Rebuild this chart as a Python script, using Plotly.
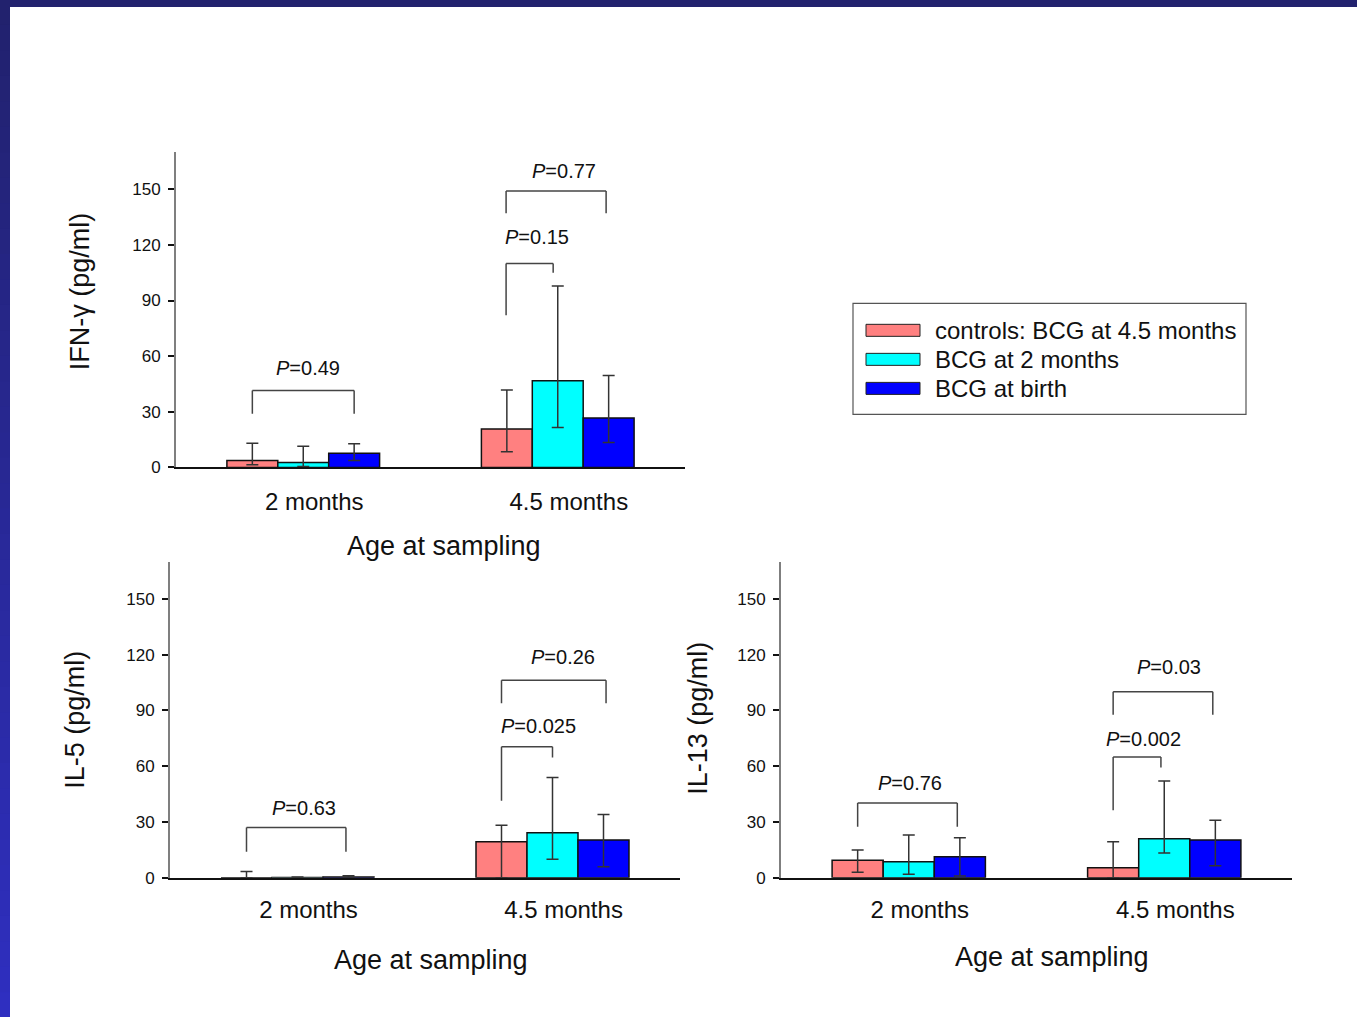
import plotly.graph_objects as go

W, H = 1357, 1017          # reference picture size
HL = 1028                  # layout height (the photo squeezes the page vertically ~0.99)

# ---------------- data ----------------
ages = ["2 months", "4.5 months"]
series_names = ["controls: BCG at 4.5 months", "BCG at 2 months", "BCG at birth"]
series_colors = ["#FF8080", "#00FFFF", "#0000FF"]

# IFN-gamma (pg/ml): value, lower whisker, upper whisker
ifn_controls = [3.8, 20.7]
ifn_controls_lo = [1.5, 8.5]
ifn_controls_hi = [13.0, 41.7]
ifn_bcg2 = [2.7, 46.8]
ifn_bcg2_lo = [0.5, 21.6]
ifn_bcg2_hi = [11.5, 97.8]
ifn_birth = [7.7, 26.6]
ifn_birth_lo = [3.8, 13.5]
ifn_birth_hi = [12.8, 49.6]

# IL-5 (pg/ml)
il5_controls = [0.0, 19.4]
il5_controls_lo = [0.0, 0.0]
il5_controls_hi = [3.4, 28.3]
il5_bcg2 = [0.2, 24.2]
il5_bcg2_lo = [0.1, 10.0]
il5_bcg2_hi = [0.5, 53.9]
il5_birth = [0.5, 20.3]
il5_birth_lo = [0.2, 6.0]
il5_birth_hi = [1.2, 34.0]

# IL-13 (pg/ml)
il13_controls = [9.4, 5.4]
il13_controls_lo = [3.0, 0.0]
il13_controls_hi = [15.0, 19.4]
il13_bcg2 = [8.6, 21.0]
il13_bcg2_lo = [2.0, 13.4]
il13_bcg2_hi = [23.0, 52.0]
il13_birth = [11.3, 20.4]
il13_birth_lo = [1.0, 6.5]
il13_birth_hi = [21.5, 31.0]

y_ticks = [0, 30, 60, 90, 120, 150]

# p-values shown above brackets
ifn_pvalues = ["0.49", "0.15", "0.77"]
il5_pvalues = ["0.63", "0.025", "0.26"]
il13_pvalues = ["0.76", "0.002", "0.03"]

# ---------------- layout helpers ----------------
FONT = "Arial, Liberation Sans, Helvetica, sans-serif"


def px(x):
    return x / W


def py(y):
    return 1 - y / H


panels = [
    dict(title="IFN-\u03b3 (pg/ml)",
         data=[(ifn_controls, ifn_controls_lo, ifn_controls_hi),
               (ifn_bcg2, ifn_bcg2_lo, ifn_bcg2_hi),
               (ifn_birth, ifn_birth_lo, ifn_birth_hi)],
         xdom=[px(176), px(685)], ydom=[py(467), py(152)],
         ytitle_xy=(80, 291), xtitle_xy=(444, 545), standoff=12, shift=11,
         pvals=ifn_pvalues,
         # (x_left, x_right, top, left_leg_bottom, right_leg_bottom, label_x, label_y)
         brackets=[(-0.2, 0.2, 41.5, 29, 29, 0.018, 53.4),
                   (0.797, 0.982, 110, 82, 105, 0.92, 124),
                   (0.797, 1.19, 149, 137, 137, 1.026, 160)]),
    dict(title="IL-5 (pg/ml)",
         data=[(il5_controls, il5_controls_lo, il5_controls_hi),
               (il5_bcg2, il5_bcg2_lo, il5_bcg2_hi),
               (il5_birth, il5_birth_lo, il5_birth_hi)],
         xdom=[px(170), px(680)], ydom=[py(877), py(561)],
         ytitle_xy=(75, 719), xtitle_xy=(431, 959), standoff=9, shift=11,
         pvals=il5_pvalues,
         brackets=[(-0.2, 0.19, 27, 14.1, 14.1, 0.024, 37.6),
                   (0.8, 1.0, 70.4, 41.4, 64.7, 0.947, 81.7),
                   (0.8, 1.21, 106.2, 93.8, 93.8, 1.04, 118.8)]),
    dict(title="IL-13 (pg/ml)",
         data=[(il13_controls, il13_controls_lo, il13_controls_hi),
               (il13_bcg2, il13_bcg2_lo, il13_bcg2_hi),
               (il13_birth, il13_birth_lo, il13_birth_hi)],
         xdom=[px(781), px(1292)], ydom=[py(877), py(561)],
         ytitle_xy=(698, 718), xtitle_xy=(1052, 956), standoff=9, shift=11,
         pvals=il13_pvalues,
         brackets=[(-0.2, 0.19, 40.2, 27.5, 27.5, 0.006, 51),
                   (0.8, 0.987, 65, 36.4, 59.3, 0.92, 74.7),
                   (0.8, 1.19, 100, 87.6, 87.6, 1.018, 113.4)]),
]

fig = go.Figure()
shapes = []
annotations = []

for i, p in enumerate(panels):
    ax = "" if i == 0 else str(i + 1)
    xref, yref = "x" + ax, "y" + ax
    for (vals, lo, hi), name, color in zip(p["data"], series_names, series_colors):
        fig.add_trace(go.Bar(
            x=ages, y=vals, name=name, xaxis=xref, yaxis=yref,
            marker=dict(color=color, line=dict(color="#111111", width=1.5)),
            error_y=dict(type="data", symmetric=False,
                         array=[h - v for h, v in zip(hi, vals)],
                         arrayminus=[v - l for v, l in zip(vals, lo)],
                         color="#333333", thickness=1.5, width=6),
            showlegend=False,
        ))
    fig.layout["xaxis" + ax] = dict(
        domain=p["xdom"], anchor=yref, type="category", range=[-0.5, 1.5],
        showline=True, linecolor="#111111", linewidth=2, ticks="",
        showgrid=False, zeroline=False,
        ticklabelstandoff=p["standoff"], ticklabelshift=p["shift"],
        tickfont=dict(family=FONT, size=24, color="#111111"),
    )
    fig.layout["yaxis" + ax] = dict(
        domain=p["ydom"], anchor=xref, range=[0, 170], tickvals=y_ticks,
        showline=True, linecolor="#7f7f7f", linewidth=2,
        ticks="outside", ticklen=6, tickwidth=1.5, tickcolor="#111111",
        showgrid=False, zeroline=False, ticklabelstandoff=4,
        tickfont=dict(family=FONT, size=17, color="#111111"),
    )
    # y title
    annotations.append(dict(
        text=p["title"], x=px(p["ytitle_xy"][0]), y=py(p["ytitle_xy"][1]),
        xref="paper", yref="paper", showarrow=False, textangle=-90,
        xanchor="center", yanchor="middle",
        font=dict(family=FONT, size=27, color="#111111")))
    # x title
    annotations.append(dict(
        text="Age at sampling", x=px(p["xtitle_xy"][0]), y=py(p["xtitle_xy"][1]),
        xref="paper", yref="paper", showarrow=False,
        xanchor="center", yanchor="middle",
        font=dict(family=FONT, size=27, color="#111111")))
    # brackets
    for (x0, x1, top, l0, l1, lx, ly), pv in zip(p["brackets"], p["pvals"]):
        line = dict(color="#444444", width=1.5)
        for (a, b, c, d) in [(x0, l0, x0, top), (x0, top, x1, top), (x1, top, x1, l1)]:
            shapes.append(dict(type="line", xref=xref, yref=yref,
                               x0=a, y0=b, x1=c, y1=d, line=line))
        annotations.append(dict(
            text="<i>P</i>=" + pv, x=lx, y=ly, xref=xref, yref=yref,
            showarrow=False, xanchor="center", yanchor="middle",
            font=dict(family=FONT, size=20, color="#111111")))

# manual legend (wide swatches)
shapes.append(dict(type="rect", xref="paper", yref="paper",
                   x0=px(853), x1=px(1246), y0=py(414), y1=py(303),
                   line=dict(color="#555555", width=1.2), fillcolor="white"))
for k, (name, color) in enumerate(zip(series_names, series_colors)):
    yc = 330 + 29 * k
    shapes.append(dict(type="rect", xref="paper", yref="paper",
                       x0=px(866), x1=px(920), y0=py(yc + 6), y1=py(yc - 6),
                       line=dict(color="#222222", width=1), fillcolor=color))
    annotations.append(dict(text=name, x=px(933), y=py(yc), xref="paper", yref="paper",
                            showarrow=False, xanchor="left", yanchor="middle",
                            font=dict(family=FONT, size=24, color="#111111")))

# slide frame: top bar and left gradient bar
shapes.append(dict(type="rect", xref="paper", yref="paper", x0=0, x1=1,
                   y0=py(7), y1=1, line=dict(width=0), fillcolor="#22226E", layer="above"))
nb = 40
for k in range(nb):
    t = k / (nb - 1)
    r = int(34 + (47 - 34) * t)
    g = int(34 + (47 - 34) * t)
    b = int(110 + (192 - 110) * t)
    shapes.append(dict(type="rect", xref="paper", yref="paper", x0=0, x1=px(10),
                       y0=py(H * (k + 1) / nb + 0.5), y1=py(H * k / nb - 0.5),
                       line=dict(width=0), fillcolor=f"rgb({r},{g},{b})", layer="above"))

fig.update_layout(
    width=W, height=HL, margin=dict(l=0, r=0, t=0, b=0),
    paper_bgcolor="white", plot_bgcolor="rgba(0,0,0,0)",
    barmode="group", bargap=0.4, bargroupgap=0,
    showlegend=False, shapes=shapes, annotations=annotations,
    font=dict(family=FONT, color="#111111"),
)

fig.write_html(
    "out.html",
    config={"displayModeBar": False},
    post_script="document.body.style.margin='0';document.body.style.padding='0';"
                "document.body.style.overflow='hidden';"
                "document.documentElement.style.overflow='hidden';",
)
